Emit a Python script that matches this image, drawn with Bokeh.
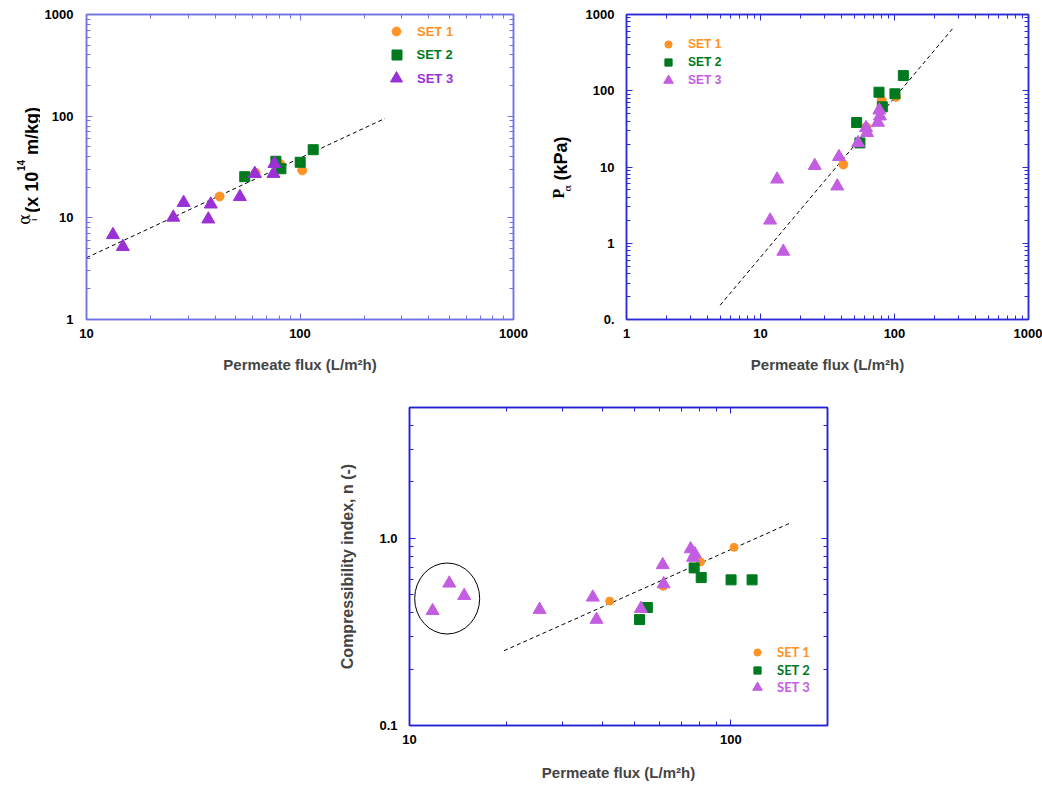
import json
import numpy as np
from bokeh.plotting import figure
from bokeh.layouts import column, row
from bokeh.models import FixedTicker, LogAxis, Legend, LegendItem, CustomJSTickFormatter
from bokeh.core.properties import value
from bokeh.embed import file_html
from bokeh.resources import INLINE

# ---------------- data ----------------
# Panel A : specific cake resistance alpha_i (x 1e14 m/kg) vs permeate flux
a_set1_flux = [42.0, 62.0, 81.1, 102.4]
a_set1_alpha = [16.2, 27.8, 33.6, 29.3]
a_set2_flux = [55.1, 77.1, 81.4, 100.2, 115.3]
a_set2_alpha = [25.4, 36.0, 30.4, 35.2, 46.8]
a_set3_flux = [13.3, 14.8, 25.5, 28.5, 37.2, 38.2, 52.3, 61.4, 75.1, 75.9]
a_set3_alpha = [6.8, 5.2, 10.1, 14.1, 9.7, 13.6, 16.1, 27.2, 27.2, 34.1]
a_fit_flux = [10.0, 250.0]
a_fit_alpha = [4.05, 95.0]

# Panel B : P_alpha (kPa) vs permeate flux
b_set1_flux = [41.5, 61.6, 80.2, 102.5]
b_set1_p = [10.8, 33.3, 75.3, 83.2]
b_set2_flux = [52.2, 55.2, 76.6, 81.1, 100.8, 116.4]
b_set2_p = [38.3, 20.7, 95.7, 61.5, 91.2, 158.0]
b_set3_flux = [11.8, 13.3, 14.8, 25.4, 37.4, 38.5, 53.5, 61.3, 62.4, 75.3, 77.0, 77.9]
b_set3_p = [2.0, 6.9, 0.78, 10.4, 5.6, 13.6, 20.7, 32.6, 28.1, 38.3, 55.6, 46.4]
b_fit_flux = [5.0, 276.0]
b_fit_p = [0.154, 676.0]

# Panel C : compressibility index n (-) vs permeate flux
c_set1_flux = [42.0, 61.6, 80.5, 102.4]
c_set1_n = [0.462, 0.554, 0.748, 0.895]
c_set2_flux = [52.0, 55.0, 76.9, 80.9, 100.2, 116.5]
c_set2_n = [0.368, 0.427, 0.695, 0.617, 0.60, 0.60]
c_set3_flux = [11.8, 13.3, 14.8, 25.4, 37.2, 38.2, 52.5, 61.4, 61.8, 75.0, 77.3, 76.3]
c_set3_n = [0.41, 0.575, 0.494, 0.416, 0.484, 0.368, 0.421, 0.721, 0.570, 0.877, 0.825, 0.79]
c_fit_flux = [19.7, 152.0]
c_fit_n = [0.251, 1.20]
c_ring_flux = [13.1]
c_ring_n = [0.477]

set_labels = ["SET 1", "SET 2", "SET 3"]

# ticks
a_x_ticks = [10, 100, 1000]
a_y_ticks = [1, 10, 100, 1000]
b_x_ticks = [1, 10, 100, 1000]
b_y_ticks = [0.1, 1, 10, 100, 1000]
c_x_ticks = [10, 100]
c_y_ticks = [0.1, 1]
a_x_labels = ["10", "100", "1000"]
a_y_labels = ["1", "10", "100", "1000"]
b_x_labels = ["1", "10", "100", "1000"]
b_y_labels = ["0.", "1", "10", "100", "1000"]
c_x_labels = ["10", "100"]
c_y_labels = ["0.1", "1.0"]

# ---------------- styling ----------------
ORANGE = "#ff9326"
GREEN = "#00791f"
PURPLE_A = "#9a30d6"
PURPLE_B = "#c35ee2"
SANS = "Liberation Sans"
ROW_H = 388


def minor_between(majors, lo, hi):
    out = []
    for m in majors:
        for k in range(2, 10):
            v = m * k
            if lo <= v <= hi:
                out.append(round(v, 6))
    return out


def label_formatter(ticks, labels):
    mapping = {str(float(t)): l for t, l in zip(ticks, labels)}
    code = ("const m = %s; const k = String(Number(tick).toFixed(6)*1 === Math.round(tick) "
            "? Math.round(tick) + '.0' : Number(tick)); "
            "return (k in m) ? m[k] : '';") % json.dumps(mapping)
    return CustomJSTickFormatter(code=code)


def style_axis(ax, ticks, minors, labels, color, show, standoff):
    ax.ticker = FixedTicker(ticks=ticks, minor_ticks=minors)
    ax.axis_line_color = color
    ax.axis_line_width = 1.5
    ax.major_tick_line_color = color
    ax.minor_tick_line_color = color
    ax.major_tick_in = 6
    ax.major_tick_out = 0
    ax.minor_tick_in = 4
    ax.minor_tick_out = 0
    ax.formatter = label_formatter(ticks, labels)
    ax.major_label_text_font = SANS
    ax.major_label_text_font_style = "bold"
    ax.major_label_text_color = "black"
    if show:
        ax.major_label_text_font_size = "13px"
        ax.major_label_standoff = standoff
    else:
        ax.major_label_text_font_size = "1px"
        ax.major_label_text_alpha = 0
        ax.major_label_standoff = 0


def make_fig(width, height, xr, yr, borders, color, xt, yt, xl, yl, xstand, ystand, lstand):
    p = figure(width=width, height=height, x_axis_type="log", y_axis_type="log",
               x_range=xr, y_range=yr, output_backend="svg", toolbar_location=None,
               min_border_left=borders[0], min_border_right=borders[1],
               min_border_top=borders[2], min_border_bottom=borders[3])
    p.grid.visible = False
    p.outline_line_color = color
    p.outline_line_width = 1.5
    p.background_fill_color = "white"
    p.border_fill_color = "white"
    xmin = minor_between(xt, xr[0], xr[1])
    ymin = minor_between(yt, yr[0], yr[1])
    bottom = p.xaxis[0]
    left = p.yaxis[0]
    style_axis(bottom, xt, xmin, xl, color, True, xstand)
    style_axis(left, yt, ymin, yl, color, True, ystand)
    top = LogAxis()
    style_axis(top, xt, xmin, xl, color, False, 0)
    right = LogAxis()
    style_axis(right, yt, ymin, yl, color, False, 0)
    p.add_layout(top, "above")
    p.add_layout(right, "right")
    bottom.axis_label = "Permeate flux (L/m²h)"
    bottom.axis_label_text_font = SANS
    bottom.axis_label_text_font_style = "bold"
    bottom.axis_label_text_font_size = "15px"
    bottom.axis_label_standoff = lstand
    return p, bottom, left


def add_key(p, rend, label, color, gx, gy, h, text_x, font, size):
    lg = Legend(items=[LegendItem(label=label, renderers=[rend])],
                location=(gx - h / 2, gy - h / 2),
                glyph_width=h, glyph_height=h, label_height=h,
                label_standoff=int(round(text_x - gx - h / 2)),
                padding=0, margin=0, spacing=0,
                border_line_alpha=0, background_fill_alpha=0,
                label_text_color=color, label_text_font=font,
                label_text_font_size=size, label_text_font_style="bold")
    p.add_layout(lg)


def title_strip(width, top, bottom):
    # bare figure; its frame spans canvas rows top..(ROW_H-bottom), y counts down
    s = figure(width=width, height=ROW_H, x_range=(0, width),
               y_range=(ROW_H - bottom, top),
               output_backend="svg", toolbar_location=None,
               x_axis_location=None, y_axis_location=None,
               min_border_left=0, min_border_right=0,
               min_border_top=top, min_border_bottom=bottom)
    s.grid.visible = False
    s.outline_line_color = None
    s.background_fill_color = "white"
    s.border_fill_color = "white"
    return s


def vtext(s, x, y, text, font, size, style="bold"):
    # x = baseline column, y = where the upward-running text starts
    s.text(x=[x], y=[y], text=[text], angle=np.pi / 2, text_align="left",
           text_baseline="alphabetic", text_font=value(font), text_font_size=value(size),
           text_font_style=style, text_color="black")


# ---------------- panel A ----------------
sA = title_strip(40, 13, 69)
vtext(sA, 24, 224, "α", "DejaVu Serif", "16px", style="normal")
vtext(sA, 33, 220, "i", SANS, "9px", style="normal")
vtext(sA, 31, 212, "(x 10", SANS, "18px")
vtext(sA, 20, 170, "14", SANS, "10px")
vtext(sA, 31, 154, "m/kg)", SANS, "18px")

pA, _, _ = make_fig(495, ROW_H, (10, 1000), (1, 1000), (46, 22, 13, 69), "#7272e8",
                    a_x_ticks, a_y_ticks, a_x_labels, a_y_labels, 9, 13, 15)
pA.line(a_fit_flux, a_fit_alpha, line_color="black", line_dash="4 3", line_width=1)
rA1 = pA.scatter(a_set1_flux, a_set1_alpha, marker="circle", size=9, color=ORANGE)
rA2 = pA.scatter(a_set2_flux, a_set2_alpha, marker="square", size=10, color=GREEN)
rA3 = pA.scatter(a_set3_flux, a_set3_alpha, marker="triangle", size=13, color=PURPLE_A)
add_key(pA, rA1, set_labels[0], ORANGE, 310, 288, 22, 331, SANS, "13px")
add_key(pA, rA2, set_labels[1], GREEN, 310, 265, 25, 331, SANS, "13px")
add_key(pA, rA3, set_labels[2], PURPLE_A, 310, 241, 30, 331, SANS, "13px")

# ---------------- panel B ----------------
sB = title_strip(45, 14, 69)
vtext(sB, 23, 198, "P", "Liberation Serif", "16px")
vtext(sB, 32, 191, "α", "DejaVu Serif", "10px", style="normal")
vtext(sB, 25, 180, "(kPa)", SANS, "18px")

pB, _, _ = make_fig(462, ROW_H, (1, 1000), (0.1, 1000), (46, 14, 14, 69), "#2b2bd8",
                    b_x_ticks, b_y_ticks, b_x_labels, b_y_labels, 9, 12, 15)
pB.line(b_fit_flux, b_fit_p, line_color="black", line_dash="4 3", line_width=1)
rB1 = pB.scatter(b_set1_flux, b_set1_p, marker="circle", size=9, color=ORANGE)
rB2 = pB.scatter(b_set2_flux, b_set2_p, marker="square", size=10, color=GREEN)
rB3 = pB.scatter(b_set3_flux, b_set3_p, marker="triangle", size=13, color=PURPLE_B)
add_key(pB, rB1, set_labels[0], ORANGE, 42, 275, 18, 62, SANS, "12px")
add_key(pB, rB2, set_labels[1], GREEN, 42, 257, 18, 62, SANS, "12px")
add_key(pB, rB3, set_labels[2], PURPLE_B, 42, 239, 24, 62, SANS, "12px")

# ---------------- panel C ----------------
pC, _, cleft = make_fig(867, 395, (10, 200), (0.1, 5), (409, 40, 19, 58), "#2222d4",
                        c_x_ticks, c_y_ticks, c_x_labels, c_y_labels, 9, 12, 17)
cleft.axis_label = "Compressibility index, n (-)"
cleft.axis_label_text_font = SANS
cleft.axis_label_text_font_style = "bold"
cleft.axis_label_text_font_size = "16px"
cleft.axis_label_standoff = 20
pC.line(c_fit_flux, c_fit_n, line_color="black", line_dash="4 3", line_width=1)
pC.ellipse(x=c_ring_flux, y=c_ring_n, width=65, height=71, width_units="screen",
           height_units="screen", fill_alpha=0, line_color="black", line_width=1)
rC1 = pC.scatter(c_set1_flux, c_set1_n, marker="circle", size=8, color=ORANGE)
rC2 = pC.scatter(c_set2_flux, c_set2_n, marker="square", size=10, color=GREEN)
rC3 = pC.scatter(c_set3_flux, c_set3_n, marker="triangle", size=13, color=PURPLE_B)
add_key(pC, rC1, set_labels[0], ORANGE, 348, 73, 18, 368, "Lato", "13px")
add_key(pC, rC2, set_labels[1], GREEN, 348, 55, 18, 368, "Lato", "13px")
add_key(pC, rC3, set_labels[2], PURPLE_B, 348, 38, 24, 368, "Lato", "13px")

layout = column(row(sA, pA, sB, pB), pC)
open("out.html", "w").write(file_html(layout, INLINE))
